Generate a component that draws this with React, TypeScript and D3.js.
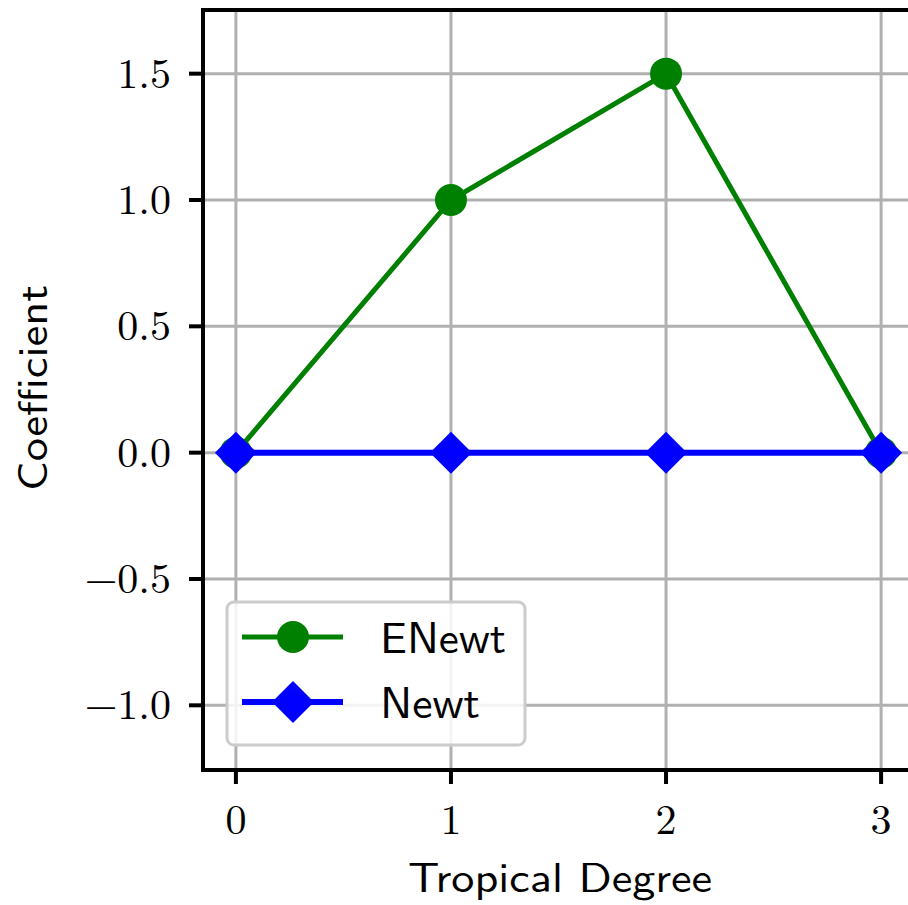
import { useRef, useEffect } from "react";
import * as d3 from "d3";

const degrees = [0, 1, 2, 3];
const enewt = [0, 1, 1.5, 0];
const newt = [0, 0, 0, 0];
const yTicks = [-1.0, -0.5, 0.0, 0.5, 1.0, 1.5];

const W = 908;
const H = 905;
const LEFT = 203;
const RIGHT = 914;
const TOP = 10;
const BOTTOM = 770;

const serif = "'Latin Modern Roman', 'DejaVu Serif', serif";
const sans = "'Latin Modern Sans', 'DejaVu Sans', sans-serif";

export default function App() {
  const svgRef = useRef<SVGSVGElement>(null);

  useEffect(() => {
    if (!svgRef.current) return;
    const svg = d3.select(svgRef.current);
    svg.selectAll("*").remove();

    const x = d3.scaleLinear().domain([-0.153, 3.153]).range([LEFT, RIGHT]);
    const y = d3.scaleLinear().domain([-1.256, 1.752]).range([BOTTOM, TOP]);

    // grid
    const grid = svg.append("g").attr("stroke", "#b0b0b0").attr("stroke-width", 3);
    degrees.forEach((d) => {
      grid.append("line").attr("x1", x(d)).attr("x2", x(d)).attr("y1", TOP).attr("y2", BOTTOM);
    });
    yTicks.forEach((t) => {
      grid.append("line").attr("x1", LEFT).attr("x2", RIGHT).attr("y1", y(t)).attr("y2", y(t));
    });

    const line = d3
      .line<number>()
      .x((_, i) => x(degrees[i]))
      .y((v) => y(v));

    // ENewt
    svg.append("path").attr("d", line(enewt)).attr("fill", "none").attr("stroke", "#008000").attr("stroke-width", 5);
    enewt.forEach((v, i) => {
      svg.append("circle").attr("cx", x(degrees[i])).attr("cy", y(v)).attr("r", 16).attr("fill", "#008000");
    });

    // Newt
    const diamond = (cx: number, cy: number, r: number) =>
      `M${cx},${cy - r}L${cx + r},${cy}L${cx},${cy + r}L${cx - r},${cy}Z`;
    svg.append("path").attr("d", line(newt)).attr("fill", "none").attr("stroke", "#0000ff").attr("stroke-width", 6);
    newt.forEach((v, i) => {
      svg.append("path").attr("d", diamond(x(degrees[i]), y(v), 21)).attr("fill", "#0000ff");
    });

    // spines
    svg
      .append("rect")
      .attr("x", LEFT)
      .attr("y", TOP)
      .attr("width", RIGHT - LEFT)
      .attr("height", BOTTOM - TOP)
      .attr("fill", "none")
      .attr("stroke", "#000")
      .attr("stroke-width", 4);

    // x ticks
    degrees.forEach((d) => {
      svg.append("line").attr("x1", x(d)).attr("x2", x(d)).attr("y1", BOTTOM).attr("y2", BOTTOM + 14)
        .attr("stroke", "#000").attr("stroke-width", 4);
      svg.append("text").attr("x", x(d)).attr("y", 834).attr("text-anchor", "middle")
        .style("font-family", serif).style("font-size", "42px").text(String(d));
    });

    // y ticks
    yTicks.forEach((t) => {
      svg.append("line").attr("x1", LEFT - 14).attr("x2", LEFT).attr("y1", y(t)).attr("y2", y(t))
        .attr("stroke", "#000").attr("stroke-width", 4);
      svg.append("text").attr("x", 171).attr("y", y(t) + 14).attr("text-anchor", "end")
        .style("font-family", serif).style("font-size", "42px")
        .text(t < 0 ? `\u2212${Math.abs(t).toFixed(1)}` : t.toFixed(1));
    });

    // axis labels
    svg.append("text").attr("x", 560).attr("y", 892).attr("text-anchor", "middle")
      .style("font-family", sans).style("font-size", "42px")
      .attr("textLength", 304).attr("lengthAdjust", "spacingAndGlyphs")
      .text("Tropical Degree");
    svg.append("text").attr("transform", `translate(47,388) rotate(-90)`).attr("text-anchor", "middle")
      .style("font-family", sans).style("font-size", "42px")
      .attr("textLength", 206).attr("lengthAdjust", "spacingAndGlyphs")
      .text("Coefficient");

    // legend
    const lg = svg.append("g");
    lg.append("rect").attr("x", 227).attr("y", 602).attr("width", 298).attr("height", 143).attr("rx", 7)
      .attr("fill", "#fff").attr("fill-opacity", 0.85).attr("stroke", "#cccccc").attr("stroke-width", 3);
    const items = [
      { label: "ENewt", color: "#008000", y: 637, shape: "circle" },
      { label: "Newt", color: "#0000ff", y: 702, shape: "diamond" },
    ];
    items.forEach((it) => {
      lg.append("line").attr("x1", 242).attr("x2", 343).attr("y1", it.y).attr("y2", it.y)
        .attr("stroke", it.color).attr("stroke-width", it.shape === "circle" ? 5 : 6);
      if (it.shape === "circle") {
        lg.append("circle").attr("cx", 293).attr("cy", it.y).attr("r", 16).attr("fill", it.color);
      } else {
        lg.append("path").attr("d", diamond(293, it.y, 21)).attr("fill", it.color);
      }
      lg.append("text").attr("x", 380).attr("y", it.y + 16)
        .style("font-family", sans).style("font-size", "44px")
        .attr("textLength", it.label === "ENewt" ? 126 : 100).attr("lengthAdjust", "spacingAndGlyphs")
        .text(it.label);
    });
  }, []);

  return (
    <svg
      ref={svgRef}
      width={W}
      height={H}
      style={{ position: "fixed", left: 0, top: 0, background: "#fff", display: "block" }}
    />
  );
}
